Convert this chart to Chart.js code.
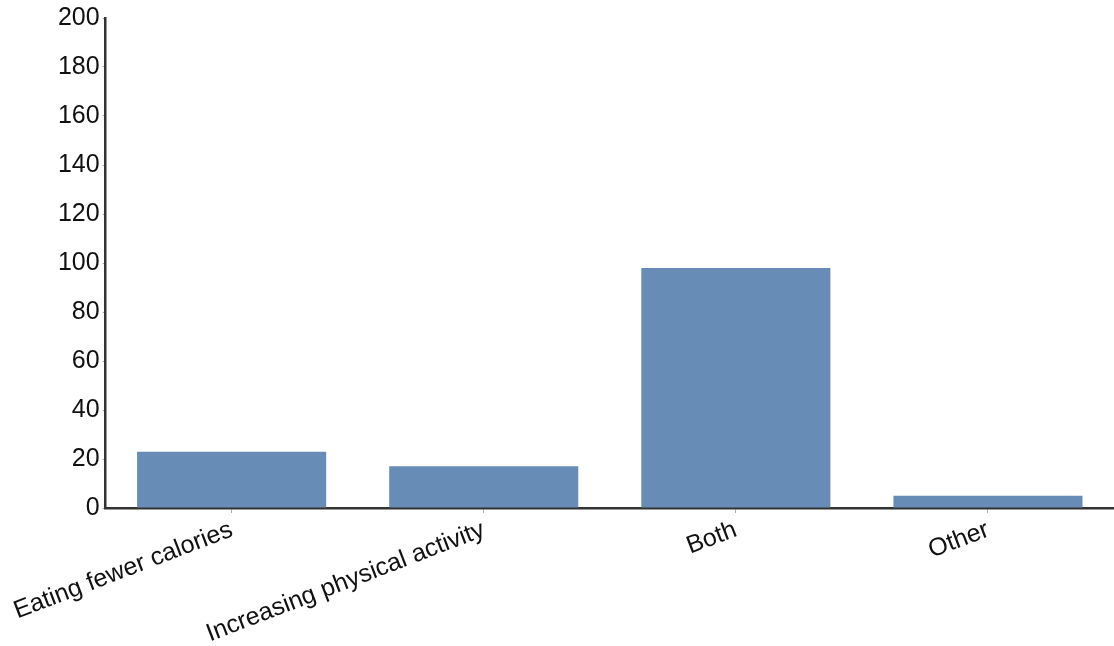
<!DOCTYPE html>
<html>
<head>
<meta charset="utf-8">
<script src="https://cdn.jsdelivr.net/npm/chart.js@4/dist/chart.umd.min.js"></script>
<style>
  html, body { margin: 0; padding: 0; background: #fff; }
  #wrap { width: 1114px; height: 646px; position: relative; }
</style>
</head>
<body>
<div id="wrap"><canvas id="chart"></canvas></div>
<script>
// ── Data ──
const categories = ['Eating fewer calories', 'Increasing physical activity', 'Both', 'Other'];
const counts = [23, 17, 98, 5];
const yTicks = [0, 20, 40, 60, 80, 100, 120, 140, 160, 180, 200];

const axisFont = { family: "'Liberation Sans', Arial, sans-serif", size: 25 };

new Chart(document.getElementById('chart'), {
    type: 'bar',
    data: {
        labels: categories,
        datasets: [{
            data: counts,
            backgroundColor: '#678cb5',
            borderWidth: 0,
            barPercentage: 0.75,
            categoryPercentage: 1,
        }],
    },
    options: {
        responsive: true, maintainAspectRatio: false,
        animation: false,
        layout: { padding: { top: 18, right: 0, left: 0, bottom: 0 } },
        plugins: { legend: { display: false }, tooltip: { enabled: false } },
        scales: {
            x: {
                grid: { offset: false, drawOnChartArea: false, drawTicks: true, tickLength: 5, color: '#aaa' },
                border: { color: '#333', width: 2.5 },
                ticks: {
                    color: '#111', font: axisFont, autoSkip: false,
                    maxRotation: 21, minRotation: 21, padding: 2,
                },
                afterFit(scale) { scale.height = 138; },
            },
            y: {
                min: 0, max: 200,
                afterBuildTicks(scale) { scale.ticks = yTicks.map(v => ({ value: v })); },
                grid: { drawOnChartArea: false, drawTicks: true, tickLength: 3, color: '#aaa' },
                border: { color: '#333', width: 2.5 },
                ticks: { color: '#111', font: axisFont, padding: 3 },
                afterFit(scale) { scale.width = 104; },
            },
        },
    },
});
</script>
</body>
</html>
